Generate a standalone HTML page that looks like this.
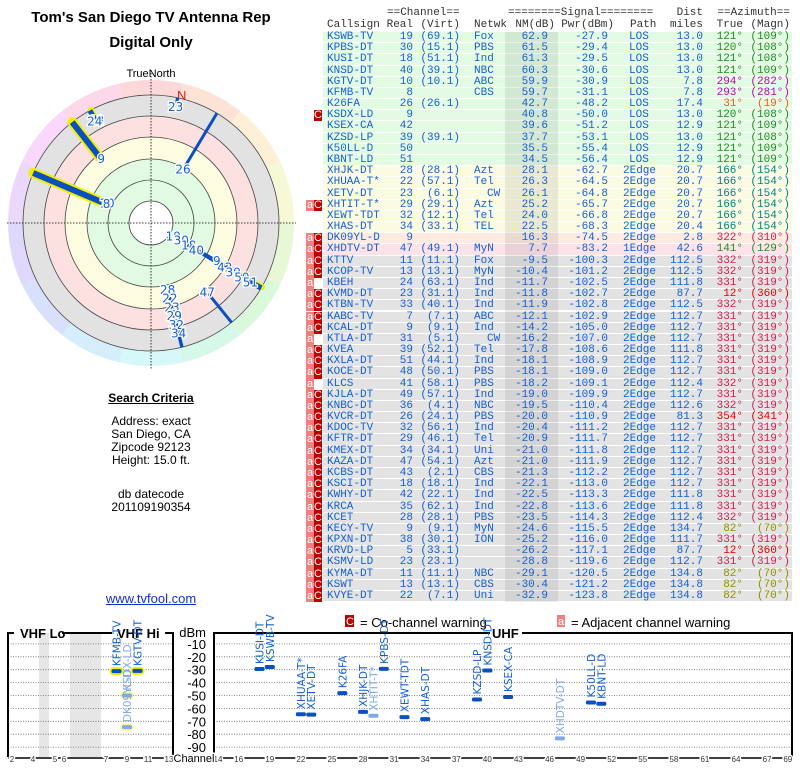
<!DOCTYPE html>
<html><head><meta charset="utf-8">
<style>
body{margin:0;width:800px;height:768px;background:#fff;position:relative;overflow:hidden;font-family:"Liberation Sans",sans-serif}
.t{position:absolute;white-space:pre;font-family:"Liberation Mono",monospace;font-size:11px;line-height:11px;color:#1560d0}
.h{color:#333}
.lc{position:absolute;width:302px;text-align:center;left:0;font-size:12px;color:#000}
</style></head><body>
<div class="lc" style="top:9px;font-weight:bold;font-size:15px">Tom's San Diego TV Antenna Rep</div>
<div class="lc" style="top:34px;font-weight:bold;font-size:15px">Digital Only</div>
<div class="lc" style="top:68px;font-size:11px">TrueNorth</div>
<svg id="polar" style="position:absolute;left:0;top:60px" width="302" height="320"></svg>
<div class="lc" style="top:391px;font-weight:bold;text-decoration:underline">Search Criteria</div>
<div class="lc" style="top:415px;line-height:13px">Address: exact<br>San Diego, CA<br>Zipcode 92123<br>Height: 15.0 ft.</div>
<div class="lc" style="top:488px;line-height:13px">db datecode<br>201109190354</div>
<div class="lc" style="top:591px;color:#1030d0;text-decoration:underline;font-size:13px">www.tvfool.com</div>
<div id="tbl"></div>
<svg id="bot" style="position:absolute;left:0;top:612px" width="800" height="156"></svg>
<script>
const calls=["KSWB-TV","KPBS-DT","KUSI-DT","KNSD-DT","KGTV-DT","KFMB-TV","K26FA","KSDX-LD","KSEX-CA","KZSD-LP","K50LL-D","KBNT-LD","XHJK-DT","XHUAA-T*","XETV-DT","XHTIT-T*","XEWT-TDT","XHAS-DT","DK09YL-D","XHDTV-DT","KTTV","KCOP-TV","KBEH","KVMD-DT","KTBN-TV","KABC-TV","KCAL-DT","KTLA-DT","KVEA","KXLA-DT","KOCE-DT","KLCS","KJLA-DT","KNBC-DT","KVCR-DT","KDOC-TV","KFTR-DT","KMEX-DT","KAZA-DT","KCBS-DT","KSCI-DT","KWHY-DT","KRCA","KCET","KECY-TV","KPXN-DT","KRVD-LP","KSMV-LD","KYMA-DT","KSWT","KVYE-DT"];
const realCh=[19,30,18,40,10,8,26,9,42,39,50,51,28,22,23,29,32,34,9,47,11,13,24,23,33,7,9,31,39,51,48,41,49,36,26,32,29,34,47,43,18,42,35,28,9,38,5,23,11,13,22];
const virt=["69.1","15.1","51.1","39.1","10.1","","26.1","","","39.1","","","28.1","57.1","6.1","29.1","12.1","33.1","","49.1","11.1","13.1","63.1","31.1","40.1","7.1","9.1","5.1","52.1","44.1","50.1","58.1","57.1","4.1","24.1","56.1","46.1","34.1","54.1","2.1","18.1","22.1","62.1","28.1","9.1","30.1","33.1","23.1","11.1","13.1","7.1"];
const netw=["Fox","PBS","Ind","NBC","ABC","CBS","","","","","","","Azt","Tel","CW","Azt","Tel","TEL","","MyN","Fox","MyN","Ind","Ind","Ind","ABC","Ind","CW","Tel","Ind","PBS","PBS","Ind","NBC","PBS","Ind","Tel","Uni","Azt","CBS","Ind","Ind","Ind","PBS","MyN","ION","","","NBC","CBS","Uni"];
const nm=[62.9,61.5,61.3,60.3,59.9,59.7,42.7,40.8,39.6,37.7,35.5,34.5,28.1,26.3,26.1,25.2,24.0,22.5,16.3,7.7,-9.5,-10.4,-11.7,-11.8,-11.9,-12.1,-14.2,-16.2,-17.8,-18.1,-18.1,-18.2,-19.0,-19.5,-20.0,-20.4,-20.9,-21.0,-21.0,-21.3,-22.1,-22.5,-22.8,-23.5,-24.6,-25.2,-26.2,-28.8,-29.1,-30.4,-32.9];
const pwr=[-27.9,-29.4,-29.5,-30.6,-30.9,-31.1,-48.2,-50.0,-51.2,-53.1,-55.4,-56.4,-62.7,-64.5,-64.8,-65.7,-66.8,-68.3,-74.5,-83.2,-100.3,-101.2,-102.5,-102.7,-102.8,-102.9,-105.0,-107.0,-108.6,-108.9,-109.0,-109.1,-109.9,-110.4,-110.9,-111.2,-111.7,-111.8,-111.9,-112.2,-113.0,-113.3,-113.6,-114.3,-115.5,-116.0,-117.1,-119.6,-120.5,-121.2,-123.8];
const path=["LOS","LOS","LOS","LOS","LOS","LOS","LOS","LOS","LOS","LOS","LOS","LOS","2Edge","2Edge","2Edge","2Edge","2Edge","2Edge","2Edge","1Edge"];
const dist=[13.0,13.0,13.0,13.0,7.8,7.8,17.4,13.0,12.9,13.0,12.9,12.9,20.7,20.7,20.7,20.7,20.7,20.4,2.8,42.6,112.5,112.5,111.8,87.7,112.5,112.7,112.7,112.7,111.8,112.7,112.7,112.4,112.7,112.6,81.3,112.7,112.7,112.7,112.7,112.7,112.7,111.8,111.8,112.4,134.7,111.7,87.7,112.7,134.8,134.8,134.8];
const azTrue=[121,120,121,121,294,293,31,120,121,121,121,121,166,166,166,166,166,166,322,141,332,332,331,12,332,331,331,331,331,331,331,332,331,332,354,331,331,331,331,331,331,331,331,332,82,331,12,331,82,82,82];
const azMag=[109,108,108,109,282,281,19,108,109,108,109,109,154,154,154,154,154,154,310,129,319,319,319,360,319,319,319,319,319,319,319,319,319,319,341,319,319,319,319,319,319,319,319,319,70,319,360,319,70,70,70];
const warn=["","","","","","","","C","","","","","","","","aC","","","aC","aC","aC","aC","a","aC","aC","aC","aC","a","aC","aC","aC","a","aC","aC","aC","aC","aC","aC","aC","aC","aC","aC","aC","aC","aC","aC","aC","aC","aC","aC","aC"];

const tbl=document.getElementById('tbl');
function txt(s,x,y,align,cls,color,name){
  const d=document.createElement('div');d.className='t '+(cls||'');
  d.textContent=s;d.style.top=y+'px';
  if(align==='r'){d.style.right=(800-x)+'px'}else{d.style.left=x+'px'}
  if(color)d.style.color=color;
  
  
  tbl.appendChild(d);return d;
}
txt('==Channel==',387,8,'l','h',null,'channel-header');
txt('========Signal========',508,8,'l','h',null,'signal-header');
txt('Dist',703,8,'r','h',null,'dist-header');
txt('==Azimuth==',790,8,'r','h',null,'azimuth-header');
txt('Callsign',327,20,'l','h',null,'callsign-header');
txt('Real',413,20,'r','h',null,'real-header');
txt('(Virt)',460,20,'r','h',null,'virt-header');
txt('Netwk',474,20,'l','h',null,'netwk-header');
txt('NM(dB)',555,20,'r','h',null,'nm-header');
txt('Pwr(dBm)',614,20,'r','h',null,'pwr-header');
txt('Path',630,20,'l','h',null,'path-header');
txt('miles',703,20,'r','h',null,'miles-header');
txt('True',743,20,'r','h',null,'true-header');
txt('(Magn)',790,20,'r','h',null,'magn-header');
const RH=11.18,RT=32;
function azColor(a){if(a===120||a===121||a===141)return'#228b22';if(a>=290&&a<300)return'#c000c0';if(a===31)return'#e06020';if(a===166)return'#008080';if(a===82)return'#909000';if(a===12||a===354)return'#e00000';return'#d02050';}
function rowBg(i){if(i<12)return'#e3fae3';if(i<18)return'#fbfbe2';if(i===18)return'#fdebe2';if(i===19)return'#fde2ea';return'#e3e3e3';}
for(let i=0;i<calls.length;i++){
  const y=RT+i*RH;
  const bg=document.createElement('div');
  
  
  bg.style.cssText=`position:absolute;left:323px;top:${y}px;width:469px;height:${RH-1}px;background:${rowBg(i)}`;
  tbl.appendChild(bg);
}
const shade=document.createElement('div');


shade.style.cssText=`position:absolute;left:505px;top:${RT}px;width:53px;height:${calls.length*RH}px;background:rgba(0,0,0,0.07)`;
tbl.appendChild(shade);
for(let i=0;i<calls.length;i++){
  const y=RT+i*RH;
  const ty=y;
  txt(calls[i],327,ty,'l',null,null,'callsign-cell');
  txt(String(realCh[i]),413,ty,'r',null,null,'real-channel-cell');
  if(virt[i])txt('('+virt[i]+')',460,ty,'r',null,null,'virtual-channel-cell');
  if(netw[i])txt(netw[i],netw[i]==='CW'?487:474,ty,'l',null,null,'network-cell');
  txt(nm[i].toFixed(1),548,ty,'r',null,null,'nm-cell');
  txt(pwr[i].toFixed(1),608,ty,'r',null,null,'power-cell');
  const p=path[i]||'2Edge';
  txt(p,p==='LOS'?629:623,ty,'l',null,null,'path-cell');
  txt(dist[i].toFixed(1),703,ty,'r',null,null,'distance-cell');
  const c=azColor(azTrue[i]);
  txt(azTrue[i]+'°',743,ty,'r',null,c,'true-azimuth-cell');
  txt('('+azMag[i]+'°)',790,ty,'r',null,c,'magnetic-azimuth-cell');
  const w=warn[i];
  if(w.includes('a')){const b=document.createElement('div');b.style.cssText=`position:absolute;left:306px;top:${y}px;width:8px;height:${RH}px;background:#f08080;color:#fff;font:11px "Liberation Sans",sans-serif;line-height:10px;text-align:center`;b.textContent='a';tbl.appendChild(b);}
  if(w.includes('C')){const b=document.createElement('div');b.style.cssText=`position:absolute;left:314px;top:${y}px;width:8px;height:${RH}px;background:#c00000;color:#fff;font:11px "Liberation Sans",sans-serif;line-height:10px;text-align:center`;b.textContent='C';tbl.appendChild(b);}
}

// polar plot
const NS='http://www.w3.org/2000/svg';
function mk(par,tag,at){const e=document.createElementNS(NS,tag);for(const k in at)e.setAttribute(k,at[k]);par.appendChild(e);return e;}
const P=document.getElementById('polar');
const cx=151,cy=163;
const hues=['#fdd8d8','#fde2d6','#fdf0d6','#f6f8d6','#e8f8d6','#daf8da','#d6f8e8','#d6f8f8','#d6eefc','#d8e0fc','#e0d8fc','#ecd8fc','#fad8fc','#fcd8ea'];
for(let k=0;k<hues.length;k++){
  const a0=(k-0.5)*360/hues.length*Math.PI/180,a1=(k+0.5)*360/hues.length*Math.PI/180;
  const s=mk(P,'path',{d:`M${cx},${cy} L${cx+143*Math.sin(a0)},${cy-143*Math.cos(a0)} A143,143 0 0 1 ${cx+143*Math.sin(a1)},${cy-143*Math.cos(a1)} Z`,fill:hues[k]});
  
  
}
const bands=[[128,'#e2e2e2'],[107,'#fde0e0'],[86,'#fcfce0'],[64,'#e2fae2'],[22,'#ffffff']];
for(const [r,f] of bands){const c=mk(P,'circle',{cx,cy,r,fill:f});}
for(const r of [128,107,86,64,43,22]){const c=mk(P,'circle',{cx,cy,r,fill:'none',stroke:'#444','stroke-width':0.8});}
const ax1=mk(P,'line',{x1:7,y1:cy,x2:296,y2:cy,stroke:'#000','stroke-dasharray':'1.5,1.5','stroke-width':0.8});

const ax2=mk(P,'line',{x1:cx,y1:10,x2:cx,y2:310,stroke:'#000','stroke-dasharray':'1.5,1.5','stroke-width':0.8});

const nl=mk(P,'text',{x:177,y:40,fill:'#d02020','font-size':13,'font-family':'Liberation Sans,sans-serif'});nl.textContent='N';

const KP=[[70,32],[60,50],[43,64],[28,72],[22,100],[16,82],[0,100],[-12,121]];
function rad(v){v=Math.max(-12,Math.min(70,v));for(let k=0;k<KP.length-1;k++){const [a,ra]=KP[k],[b,rb]=KP[k+1];if(v<=a&&v>=b)return ra+(rb-ra)*(a-v)/(a-b);}return 121;}
const grpCount={};
const labels=[];
for(let i=0;i<24;i++){
  const az=azTrue[i];grpCount[az]=(grpCount[az]||0)+1;
  let r0=rad(nm[i]);
  if(az===166)r0=62+grpCount[az]*9;
  if(az===121||az===120)r0=28+(i<4?i*9:(i-2)*10);
  if(az===332||az===331)r0=118;
  const a=az*Math.PI/180,sx=Math.sin(a),sy=-Math.cos(a);
  const vhf=realCh[i]<=13;
  const r1=128;
  if(vhf){const g=mk(P,'line',{x1:cx+r0*sx,y1:cy+r0*sy,x2:cx+r1*sx,y2:cy+r1*sy,stroke:'#f0f000','stroke-width':(i===5||i===18)?10:6,'stroke-linecap':'round'});}
  const l=mk(P,'line',{x1:cx+r0*sx,y1:cy+r0*sy,x2:cx+r1*sx,y2:cy+r1*sy,stroke:'#0a50c0','stroke-width':(i===5||i===18)?6:3});
  
  labels.push([cx+(r0-2)*sx,cy+(r0-2)*sy+4,realCh[i]]);
}
for(const [x,y,ch] of labels){
  const t=mk(P,'text',{x,y,'text-anchor':'middle','font-size':12,fill:'#1560d0',stroke:'#fff','stroke-width':2.5,'paint-order':'stroke','font-family':'DejaVu Sans,sans-serif'});
  t.textContent=ch;
}

// bottom spectrum chart
const B=document.getElementById('bot');
const dbTicks=[-10,-20,-30,-40,-50,-60,-70,-80,-90];
const vhfTicks=[2,4,5,6,7,9,11,13];
const uhfTicks=[14,16,19,22,25,28,31,34,37,40,43,46,49,52,55,58,61,64,67,69];
function yDb(d){return 19+(-d/10)*12.9;}
function xV(ch){if(ch<=6){return {2:12,3:22,4:33,5:55,6:64}[ch];}return 106+(ch-7)*10.5;}
function xU(ch){return 218+(ch-14)*10.36;}
function xCh(ch){return ch<=13?xV(ch):xU(ch);}
mk(B,'rect',{x:39,y:21,width:10,height:124,fill:'#e6e6e6'});
mk(B,'rect',{x:70,y:21,width:31,height:124,fill:'#e6e6e6'});
for(const d of dbTicks){
  const y=yDb(d);
  const g1=mk(B,'line',{x1:8,y1:y,x2:173,y2:y,stroke:'#666','stroke-dasharray':'1,1.5','stroke-width':0.8});
  const g2=mk(B,'line',{x1:214,y1:y,x2:792,y2:y,stroke:'#666','stroke-dasharray':'1,1.5','stroke-width':0.8});
  const t=mk(B,'text',{x:206,y:y+5,'text-anchor':'end','font-size':13,fill:'#000'});t.textContent=String(d);
  
}
const du=mk(B,'text',{x:206,y:25,'text-anchor':'end','font-size':13});du.textContent='dBm';
mk(B,'path',{d:'M8,145 L8,21 L14,21 M62,21 L112,21 M165,21 L173,21 L173,145',fill:'none',stroke:'#000','stroke-width':2});
mk(B,'path',{d:'M214,145 L214,21 L490,21 M522,21 L792,21 L792,145',fill:'none',stroke:'#000','stroke-width':2});
const l1=mk(B,'text',{x:20,y:26,'font-size':13,'font-weight':'bold'});l1.textContent='VHF Lo';
const l2=mk(B,'text',{x:117,y:26,'font-size':13,'font-weight':'bold'});l2.textContent='VHF Hi';
const l3=mk(B,'text',{x:492,y:26,'font-size':13,'font-weight':'bold'});l3.textContent='UHF';
mk(B,'line',{x1:8,y1:146,x2:173,y2:146,stroke:'#000','stroke-width':1.5});
mk(B,'line',{x1:214,y1:146,x2:792,y2:146,stroke:'#000','stroke-width':1.5});
for(const c of vhfTicks){const t=mk(B,'text',{x:xV(c),y:150,'text-anchor':'middle','font-size':8,fill:'#333',stroke:'#fff','stroke-width':3,'paint-order':'stroke'});t.textContent=c;}
for(const c of uhfTicks){const t=mk(B,'text',{x:xU(c),y:150,'text-anchor':'middle','font-size':8,fill:'#333',stroke:'#fff','stroke-width':3,'paint-order':'stroke'});t.textContent=c;}
const cl=mk(B,'text',{x:194,y:150,'text-anchor':'middle','font-size':11,stroke:'#fff','stroke-width':3,'paint-order':'stroke'});cl.textContent='Channel';
mk(B,'rect',{x:345,y:3,width:9,height:12,fill:'#c00000'});
const lc=mk(B,'text',{x:346,y:13,'font-size':11,fill:'#fff'});lc.textContent='C';
const lt=mk(B,'text',{x:360,y:15,'font-size':13});lt.textContent='= Co-channel warning';
mk(B,'rect',{x:557,y:3,width:8,height:12,fill:'#f08080'});
const la=mk(B,'text',{x:558,y:13,'font-size':11,fill:'#fff'});la.textContent='a';
const lt2=mk(B,'text',{x:571,y:15,'font-size':13});lt2.textContent='= Adjacent channel warning';
for(let i=0;i<20;i++){
  const ch=realCh[i],x=xCh(ch),y=yDb(pwr[i]);
  const faded=warn[i]!=='';
  const col=faded?'#80a8e8':'#0a50c0';
  if(ch<=13){const g=mk(B,'rect',{x:x-7,y:y-4,width:14,height:8,rx:4,fill:'#f0f000',opacity:faded?0.4:1});}
  const b=mk(B,'rect',{x:x-5,y:y-2,width:10,height:4,rx:1.5,fill:col});
  
  const t=mk(B,'text',{x:0,y:0,'font-size':10.5,fill:faded?'#80a8e8':'#1560d0',transform:`translate(${x+4},${y-5}) rotate(-90)`,'font-family':'DejaVu Sans,sans-serif'});
  t.textContent=calls[i];
}
</script>
</body></html>
